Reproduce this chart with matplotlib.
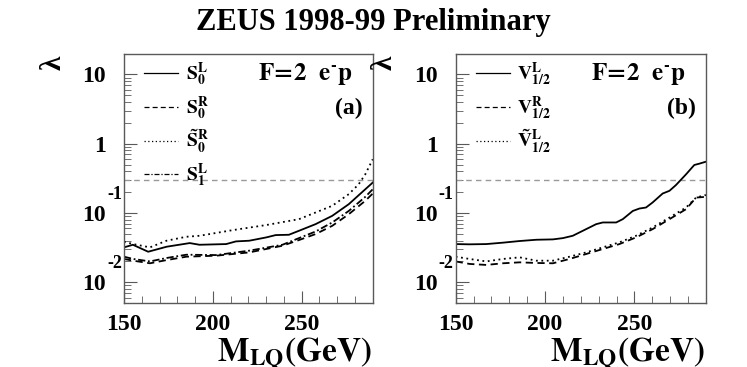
import numpy as np
import matplotlib
matplotlib.use("Agg")
import matplotlib.pyplot as plt
from matplotlib.ticker import LogLocator, MultipleLocator, NullFormatter, FixedLocator, FixedFormatter

plt.rcParams['font.family'] = 'Liberation Serif'
plt.rcParams['font.weight'] = 'bold'
plt.rcParams['mathtext.fontset'] = 'stix'

# panel (a): scalar leptoquarks
s0l_x = [150, 155, 163.6, 174, 187, 192.5, 207.5, 213, 220.5, 230, 235.4, 242.8, 248.5, 257.8, 267.2, 276.5, 285.8, 290]
s0l_y = [0.0319, 0.0348, 0.0276, 0.0326, 0.0368, 0.0348, 0.0356, 0.0389, 0.0398, 0.0444, 0.048, 0.0485, 0.0554, 0.069, 0.091, 0.134, 0.22, 0.275]

s0rt_x = [150, 155.2, 164.6, 173.9, 185.1, 192.5, 211.2, 229.9, 248.5, 257.8, 267.2, 276.5, 282.1, 285.8, 290]
s0rt_y = [0.0385, 0.0356, 0.0319, 0.0398, 0.0454, 0.0469, 0.0566, 0.0669, 0.0815, 0.1016, 0.127, 0.187, 0.26, 0.362, 0.596]

s_x = [150, 155.2, 164.6, 173.9, 185.1, 201.9, 220.5, 239.2, 248.5, 257.8, 267.2, 276.5, 285.8, 290]
s0r_y = [0.0217, 0.0205, 0.0188, 0.0209, 0.0234, 0.0242, 0.027, 0.0337, 0.0407, 0.0496, 0.0653, 0.096, 0.150, 0.191]
s1l_y = [0.0234, 0.0217, 0.020, 0.0224, 0.025, 0.0247, 0.0286, 0.0348, 0.0434, 0.054, 0.073, 0.107, 0.171, 0.220]

# panel (b): vector leptoquarks
v12l_x = [150, 157.8, 167.1, 176.4, 185.8, 195.1, 204.4, 210, 215.5, 223, 228.6, 232.3, 239.8, 243.5, 249.1,
          252.8, 256.5, 260.2, 265.8, 269.6, 273.3, 278.9, 283.5, 286.3, 290]
v12l_y = [0.0356, 0.0353, 0.0356, 0.0373, 0.0394, 0.0411, 0.0416, 0.0434, 0.0469, 0.0585, 0.069, 0.073, 0.073,
          0.0815, 0.107, 0.116, 0.120, 0.142, 0.191, 0.209, 0.254, 0.362, 0.493, 0.515, 0.55]

v_x = [150, 157.8, 167.1, 176.4, 185.8, 195.1, 204.4, 213.7, 223, 232.3, 241.6, 250.9, 260.2, 269.6, 278.9, 284.5, 290]
v12r_y = [0.020, 0.0184, 0.0178, 0.0188, 0.0194, 0.019, 0.0188, 0.0217, 0.0256, 0.0302, 0.0356, 0.0444, 0.0585,
          0.0815, 0.1135, 0.167, 0.171]
v12lt_y = [0.0234, 0.0217, 0.0200, 0.0217, 0.0229, 0.0205, 0.0205, 0.0234, 0.027, 0.0319, 0.0377, 0.0469, 0.0618,
           0.086, 0.120, 0.167, 0.182]

e_coupling = 0.303
ytick_vals = [0.01, 0.1, 1, 10]
ytick_labels = ['10', '10', '1', '10']
ytick_exps = {0.01: '-2', 0.1: '-1'}

fig = plt.figure(figsize=(7.47, 3.67), dpi=100)
ax_a = fig.add_axes([0.166, 0.174, 0.333, 0.678])
ax_b = fig.add_axes([0.610, 0.174, 0.335, 0.678])

fig.text(0.5, 0.94, 'ZEUS 1998-99 Preliminary', ha='center', va='center', fontsize=22, fontweight='bold')


def style_axes(ax, tag):
    ax.set_yscale('log')
    ax.set_xlim(150, 290)
    ax.set_ylim(0.005, 19.5)
    ax.axhline(e_coupling, color='0.6', lw=1.0, ls=(0, (4, 3)))
    for s in ax.spines.values():
        s.set_color('0.35')
        s.set_linewidth(1.0)
    ax.xaxis.set_major_locator(MultipleLocator(50))
    ax.xaxis.set_minor_locator(MultipleLocator(10))
    ax.yaxis.set_major_locator(FixedLocator(ytick_vals))
    ax.yaxis.set_major_formatter(FixedFormatter(ytick_labels))
    ax.yaxis.set_minor_locator(LogLocator(base=10, subs=np.arange(2, 10)))
    ax.yaxis.set_minor_formatter(NullFormatter())
    ax.tick_params(axis='both', which='both', direction='in', top=False, right=False, color='0.35')
    ax.tick_params(axis='x', which='major', length=9, pad=8, labelsize=17)
    ax.tick_params(axis='x', which='minor', length=5)
    ax.tick_params(axis='y', which='major', length=9, pad=13, labelsize=17)
    ax.tick_params(axis='y', which='minor', length=5)
    for lab in ax.get_xticklabels() + ax.get_yticklabels():
        lab.set_fontweight('bold')
    for v, e in ytick_exps.items():
        ax.text(-0.008, v * 1.85, e, transform=ax.get_yaxis_transform(), ha='right', va='center',
                fontsize=13, fontweight='bold')
    ax.text(-0.285, 0.965, 'λ', transform=ax.transAxes, rotation=90, ha='center', va='center', fontsize=21)
    ax.text(0.995, -0.232, r'$\mathbf{M_{LQ}(GeV)}$', transform=ax.transAxes, ha='right', va='baseline',
            fontsize=24)
    ax.text(0.92, 0.92, r'$\mathbf{F\!=\!2\ \ e^{\text{-}}p}$', transform=ax.transAxes, ha='right', va='center',
            fontsize=18)
    ax.text(0.96, 0.783, tag, transform=ax.transAxes, ha='right', va='center', fontsize=17, fontweight='bold')


def add_legend(ax):
    ax.legend(loc='upper left', bbox_to_anchor=(0.08, 0.975), frameon=False, fontsize=14,
              handlelength=1.75, handletextpad=0.4, labelspacing=0.32, borderpad=0, borderaxespad=0)


style_axes(ax_a, '(a)')
ax_a.plot(s0l_x, s0l_y, color='black', lw=1.3, ls='-', label=r'$\mathbf{S_0^L}$')
ax_a.plot(s_x, s0r_y, color='black', lw=1.3, ls=(0, (4, 2.5)), label=r'$\mathbf{S_0^R}$')
ax_a.plot(s0rt_x, s0rt_y, color='black', lw=1.3, ls=(0, (1, 2)), label=r'$\mathbf{\tilde{S}_0^R}$')
ax_a.plot(s_x, s1l_y, color='black', lw=1.3, ls=(0, (4, 1.5, 1, 1.5)), label=r'$\mathbf{S_1^L}$')
add_legend(ax_a)

style_axes(ax_b, '(b)')
ax_b.plot(v12l_x, v12l_y, color='black', lw=1.3, ls='-', label=r'$\mathbf{V_{1/2}^L}$')
ax_b.plot(v_x, v12r_y, color='black', lw=1.3, ls=(0, (4, 2.5)), label=r'$\mathbf{V_{1/2}^R}$')
ax_b.plot(v_x, v12lt_y, color='black', lw=1.3, ls=(0, (1, 2)), label=r'$\mathbf{\tilde{V}_{1/2}^L}$')
add_legend(ax_b)

for leg in (ax_a.get_legend(), ax_b.get_legend()):
    for h in leg.get_lines():
        h.set_linewidth(0.9)

fig.savefig('out.png', dpi=100)
